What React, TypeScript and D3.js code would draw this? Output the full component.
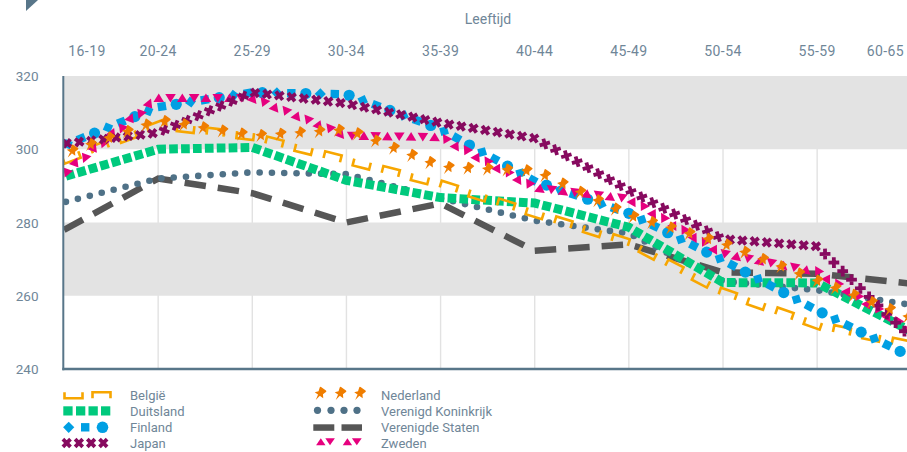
import React from 'react';
import * as d3 from 'd3';

const categories = ['16-19', '20-24', '25-29', '30-34', '35-39', '40-44', '45-49', '50-54', '55-59', '60-65'];
const yTicks = [320, 300, 280, 260, 240];
const bands = [[300, 320], [260, 280]];

const belgie = [297, 306.5, 303.5, 297, 290.5, 282.5, 274.5, 261, 252, 246.5];
const duitsland = [292.5, 300, 300.5, 291.5, 286.8, 285.3, 278.7, 263.6, 263.5, 250.3];
const finland = [301, 311.5, 315.5, 315, 305.5, 291.3, 282.5, 269.7, 256, 243.3];
const japan = [301.5, 304.5, 315.5, 312.5, 307.2, 303, 288.8, 275.5, 273.5, 248.5];
const nederland = [298.5, 307.5, 303.3, 305, 294.8, 293.7, 281.5, 273.8, 263.6, 253.5];
const verenigdKoninkrijk = [285.5, 292, 293.7, 293.2, 286.6, 280.5, 277, 264, 261.5, 257.5];
const verenigdeStaten = [278, 292, 288, 280, 285.2, 272.3, 274, 266.4, 266, 263.3];
const zweden = [293.5, 314, 314, 303.7, 303.3, 289.5, 286.5, 271.5, 266.5, 250.5];

const C = {
  be: '#f7a600',
  de: '#00c97d',
  fi: '#009fe3',
  jp: '#870a5f',
  nl: '#ef7d00',
  uk: '#4f7187',
  us: '#565656',
  se: '#e6007e',
  text: '#6f8698',
  axis: '#587689',
  band: '#e3e3e3',
  grid: '#e2e2e2',
};

const W = 907;
const H = 452;
const x = d3.scalePoint<string>().domain(categories).range([64, 911.3]);
const y = d3.scaleLinear().domain([240, 320]).range([369, 76]);
const plotLeft = 63.5;
const plotRight = W;

type P = { x: number; y: number; a: number };

function toPoints(vals: number[]): [number, number][] {
  return vals.map((v, i) => [x(categories[i]) as number, y(v)]);
}

function sample(points: [number, number][], spacing: number, offset: number): P[] {
  const out: P[] = [];
  let acc = 0;
  let next = offset;
  for (let i = 0; i < points.length - 1; i++) {
    const [x0, y0] = points[i];
    const [x1, y1] = points[i + 1];
    const len = Math.hypot(x1 - x0, y1 - y0);
    const ang = (Math.atan2(y1 - y0, x1 - x0) * 180) / Math.PI;
    while (next <= acc + len) {
      const t = (next - acc) / len;
      out.push({ x: x0 + (x1 - x0) * t, y: y0 + (y1 - y0) * t, a: ang });
      next += spacing;
    }
    acc += len;
  }
  return out;
}

const line = d3.line<[number, number]>();

const pinPath =
  'M-3,-7 L3,-7 Q4.2,-7 3.8,-5.8 L2.7,-2.2 L5.2,0.9 L-5.2,0.9 L-2.7,-2.2 L-3.8,-5.8 Q-4.2,-7 -3,-7 Z M-1.1,0.9 L1.1,0.9 L0,6.6 Z';

function Pin({ cx, cy }: { cx: number; cy: number }) {
  return <path d={pinPath} fill={C.nl} transform={`translate(${cx},${cy}) rotate(35)`} />;
}

function Bracket({ cx, cy, a, up }: { cx: number; cy: number; a: number; up: boolean }) {
  const d = up ? 'M-8.5,-3.5 L-8.5,3.5 L8.5,3.5 L8.5,-3.5' : 'M-8.5,3.5 L-8.5,-3.5 L8.5,-3.5 L8.5,3.5';
  return (
    <path
      d={d}
      fill="none"
      stroke={C.be}
      strokeWidth={2.6}
      strokeLinejoin="miter"
      transform={`translate(${cx},${cy}) rotate(${a})`}
    />
  );
}

function XMark({ cx, cy, a }: { cx: number; cy: number; a: number }) {
  return (
    <path
      d="M-3.8,-3.8L3.8,3.8M3.8,-3.8L-3.8,3.8"
      stroke={C.jp}
      strokeWidth={3.8}
      transform={`translate(${cx},${cy}) rotate(${a})`}
    />
  );
}

function Tri({ cx, cy, a, up }: { cx: number; cy: number; a: number; up: boolean }) {
  const d = up ? 'M0,-4.6 L5.3,4 L-5.3,4 Z' : 'M0,4.6 L5.3,-4 L-5.3,-4 Z';
  return <path d={d} fill={C.se} transform={`translate(${cx},${cy}) rotate(${a})`} />;
}

function FiMark({ cx, cy, a, k }: { cx: number; cy: number; a: number; k: number }) {
  if (k === 0)
    return <path d="M0,-5.6L5.6,0L0,5.6L-5.6,0Z" fill={C.fi} transform={`translate(${cx},${cy}) rotate(${a})`} />;
  if (k === 1)
    return <rect x={-4.2} y={-4.2} width={8.4} height={8.4} fill={C.fi} transform={`translate(${cx},${cy}) rotate(${a})`} />;
  return <circle cx={cx} cy={cy} r={5.6} fill={C.fi} />;
}

const font = 'Roboto, "DejaVu Sans", sans-serif';

export default function App() {
  const usPts = toPoints(verenigdeStaten);
  const ukPts = toPoints(verenigdKoninkrijk);
  const dePts = toPoints(duitsland);
  const bePts = toPoints(belgie);
  const fiPts = toPoints(finland);
  const sePts = toPoints(zweden);
  const jpPts = toPoints(japan);
  const nlPts = toPoints(nederland);

  const ukDots = sample(ukPts, 12.3, 2);
  const beMarks = sample(bePts, 30, 8);
  const fiMarks = sample(fiPts, 14.5, 4);
  const seMarks = sample(sePts, 11.8, 3);
  const jpMarks = sample(jpPts, 12.3, 3);
  const nlMarks = sample(nlPts, 19.5, 8);

  const inner = categories.slice(1, -1);

  const legendLeft = [
    { name: 'België', cy: 395 },
    { name: 'Duitsland', cy: 411 },
    { name: 'Finland', cy: 427 },
    { name: 'Japan', cy: 443 },
  ];
  const legendRight = [
    { name: 'Nederland', cy: 395 },
    { name: 'Verenigd Koninkrijk', cy: 411 },
    { name: 'Verenigde Staten', cy: 427 },
    { name: 'Zweden', cy: 443 },
  ];

  return (
    <div style={{ position: 'fixed', left: 0, top: 0, width: W, height: H, background: '#fff' }}>
      <svg width={W} height={H} style={{ display: 'block' }} fontFamily={font}>
        <defs>
          <clipPath id="plotClip">
            <rect x={plotLeft} y={0} width={plotRight - plotLeft} height={H} />
          </clipPath>
        </defs>
        <polygon points="26,0 38,0 26,11" fill={C.axis} />
        <text x={488} y={23.5} textAnchor="middle" fontSize={14} fill={C.text}>
          Leeftijd
        </text>
        {categories.map((c, i) => {
          let cx = x(c) as number;
          if (i === 0) cx += 23;
          if (i === categories.length - 1) cx -= 26;
          return (
            <text key={c} x={cx} y={56} textAnchor="middle" fontSize={14} fill={C.text} letterSpacing={0.4}>
              {c}
            </text>
          );
        })}
        {yTicks.map((t) => (
          <text key={t} x={38.5} y={y(t) + 5} textAnchor="end" fontSize={13.5} fill={C.text}>
            {t}
          </text>
        ))}
        {inner.map((c) => (
          <line key={c} x1={x(c)} x2={x(c)} y1={y(320)} y2={y(240)} stroke={C.grid} strokeWidth={1.4} />
        ))}
        {bands.map(([lo, hi]) => (
          <rect key={lo} x={plotLeft} y={y(hi)} width={plotRight - plotLeft} height={y(lo) - y(hi)} fill={C.band} />
        ))}
        <g clipPath="url(#plotClip)">
          <path d={line(usPts) || ''} fill="none" stroke={C.us} strokeWidth={6.5} strokeDasharray="21.5 12" />
          {ukDots.map((p, i) => (
            <circle key={i} cx={p.x} cy={p.y} r={3.3} fill={C.uk} />
          ))}
          <path d={line(dePts) || ''} fill="none" stroke={C.de} strokeWidth={9} strokeDasharray="8.7 3.2" strokeDashoffset={-2} />
          {beMarks.map((p, i) => (
            <Bracket key={i} cx={p.x} cy={p.y} a={p.a} up={i % 2 === 0} />
          ))}
          {fiMarks.map((p, i) => (
            <FiMark key={i} cx={p.x} cy={p.y} a={p.a} k={i % 3} />
          ))}
          {seMarks.map((p, i) => (
            <Tri key={i} cx={p.x} cy={p.y} a={p.a} up={i % 2 === 0} />
          ))}
          {jpMarks.map((p, i) => (
            <XMark key={i} cx={p.x} cy={p.y} a={p.a} />
          ))}
          {nlMarks.map((p, i) => (
            <Pin key={i} cx={p.x} cy={p.y} />
          ))}
        </g>
        <line x1={63.3} x2={63.3} y1={y(320)} y2={y(240) + 1.2} stroke={C.axis} strokeWidth={2} />
        <line x1={62.3} x2={plotRight} y1={y(240)} y2={y(240)} stroke={C.axis} strokeWidth={2.4} />

        {/* legend left */}
        <path d="M64.5,392.3 L64.5,398.3 L82.5,398.3 L82.5,392.3" fill="none" stroke={C.be} strokeWidth={2.6} />
        <path d="M92.5,398.3 L92.5,392.3 L110.5,392.3 L110.5,398.3" fill="none" stroke={C.be} strokeWidth={2.6} />
        {[63.3, 76, 88.5, 101].map((lx) => (
          <rect key={lx} x={lx} y={406.3} width={9.3} height={9.2} fill={C.de} />
        ))}
        <path d="M68.7,421.7L74.3,427.3L68.7,432.9L63.1,427.3Z" fill={C.fi} />
        <rect x={81} y={423.1} width={8.4} height={8.4} fill={C.fi} />
        <circle cx={102.5} cy={427.3} r={5.8} fill={C.fi} />
        {[66.7, 78.9, 91.1, 103.3].map((lx) => (
          <XMark key={lx} cx={lx} cy={443} a={0} />
        ))}
        {legendLeft.map((l) => (
          <text key={l.name} x={130} y={l.cy + 4.6} fontSize={13} fill={C.text}>
            {l.name}
          </text>
        ))}

        {/* legend right */}
        {[319.5, 339.5, 359].map((lx) => (
          <Pin key={lx} cx={lx} cy={394.5} />
        ))}
        {[317.5, 331, 344, 357].map((lx) => (
          <circle key={lx} cx={lx} cy={410.3} r={3.6} fill={C.uk} />
        ))}
        <rect x={313.3} y={424.3} width={21} height={6.5} fill={C.us} />
        <rect x={341.5} y={424.3} width={20.5} height={6.5} fill={C.us} />
        <path d="M320.8,438.2L325.5,445.3L316.1,445.3Z" fill={C.se} />
        <path d="M330,445.3L334.9,438.2L325.3,438.2Z" fill={C.se} />
        <path d="M347.4,438.2L352.1,445.3L342.7,445.3Z" fill={C.se} />
        <path d="M356.8,445.3L361.7,438.2L351.9,438.2Z" fill={C.se} />
        {legendRight.map((l) => (
          <text key={l.name} x={381} y={l.cy + 4.6} fontSize={13} fill={C.text}>
            {l.name}
          </text>
        ))}
      </svg>
    </div>
  );
}
